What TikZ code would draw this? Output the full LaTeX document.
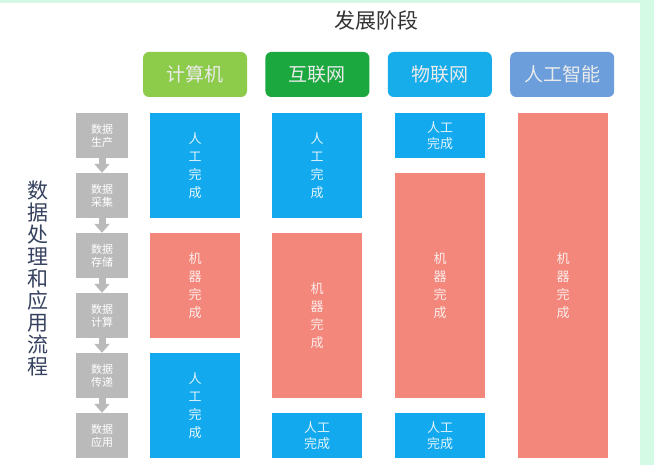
\documentclass[tikz,border=0pt]{standalone}
\usepackage{fontspec}
\setmainfont{Noto Sans CJK SC}
\usetikzlibrary{arrows.meta,positioning}
\definecolor{mintbg}{HTML}{D4FAE6}
\definecolor{computergreen}{HTML}{8DCB4B}
\definecolor{internetgreen}{HTML}{1BA83F}
\definecolor{iotblue}{HTML}{17ADEB}
\definecolor{aiblue}{HTML}{6B9EDB}
\definecolor{skyblue}{HTML}{12A9EE}
\definecolor{salmon}{HTML}{F3877B}
\definecolor{flowgray}{HTML}{BABABA}
\definecolor{titlegray}{HTML}{333333}
\definecolor{labelnavy}{HTML}{35415F}
\begin{document}
\begin{tikzpicture}[x=1pt,y=-1pt,
stage/.style={rounded corners=6pt,minimum width=104pt,minimum height=45pt,inner sep=0pt,text=white!92!black,font=\fontsize{19}{19}\selectfont},
part/.style={minimum width=90pt,inner sep=0pt,align=center,font=\fontsize{13}{18}\selectfont},
manual/.style={part,fill=skyblue,text=white!88!skyblue},
machine/.style={part,fill=salmon,text=white!85!salmon},
flowstep/.style={fill=flowgray,minimum width=52pt,minimum height=45pt,inner sep=0pt,align=center,text=white,font=\fontsize{11}{13}\selectfont},
flowarrow/.style={flowgray,line width=7pt,-{Triangle[width=15pt,length=9pt]}}
]
\useasboundingbox (0,0) rectangle (654,465);
\fill[mintbg] (0,0) rectangle (654,465);
\fill[white] (0,3) rectangle (640,465);
% title and stages
\node[text=titlegray,font=\fontsize{21}{21}\selectfont] (title) at (376,21) {发展阶段};
\node[stage,fill=computergreen] (computer) at (195,74.5) {计算机};
\node[stage,fill=internetgreen,right=18pt of computer] (internet) {互联网};
\node[stage,fill=iotblue,right=18pt of internet] (iot) {物联网};
\node[stage,fill=aiblue,right=18pt of iot] (ai) {人工智能};
% process flow
\node[text=labelnavy,align=center,font=\fontsize{21}{22}\selectfont] (flowlabel) at (38,278) {数\\据\\处\\理\\和\\应\\用\\流\\程};
\node[flowstep] (produce) at (102,135.5) {数据\\生产};
\node[flowstep] (collect) at (102,195.5) {数据\\采集};
\node[flowstep] (store) at (102,255.5) {数据\\存储};
\node[flowstep] (compute) at (102,315.5) {数据\\计算};
\node[flowstep] (transfer) at (102,375.5) {数据\\传递};
\node[flowstep] (apply) at (102,435.5) {数据\\应用};
\draw[flowarrow] (produce.south) -- (collect.north);
\draw[flowarrow] (collect.south) -- (store.north);
\draw[flowarrow] (store.south) -- (compute.north);
\draw[flowarrow] (compute.south) -- (transfer.north);
\draw[flowarrow] (transfer.south) -- (apply.north);
% computer
\node[manual,minimum height=105pt] (computer1) at (195,165.5) {人\\工\\完\\成};
\node[machine,minimum height=105pt] (computer2) at (195,285.5) {机\\器\\完\\成};
\node[manual,minimum height=105pt] (computer3) at (195,405.5) {人\\工\\完\\成};
% internet
\node[manual,minimum height=105pt] (internet1) at (317,165.5) {人\\工\\完\\成};
\node[machine,minimum height=165pt] (internet2) at (317,315.5) {机\\器\\完\\成};
\node[manual,minimum height=45pt,font=\fontsize{13}{16}\selectfont] (internet3) at (317,435.5) {人工\\完成};
% iot
\node[manual,minimum height=45pt,font=\fontsize{13}{16}\selectfont] (iot1) at (440,135.5) {人工\\完成};
\node[machine,minimum height=225pt] (iot2) at (440,285.5) {机\\器\\完\\成};
\node[manual,minimum height=45pt,font=\fontsize{13}{16}\selectfont] (iot3) at (440,435.5) {人工\\完成};
% ai
\node[machine,minimum height=345pt] (ai1) at (563,285.5) {机\\器\\完\\成};
\end{tikzpicture}
\end{document}
